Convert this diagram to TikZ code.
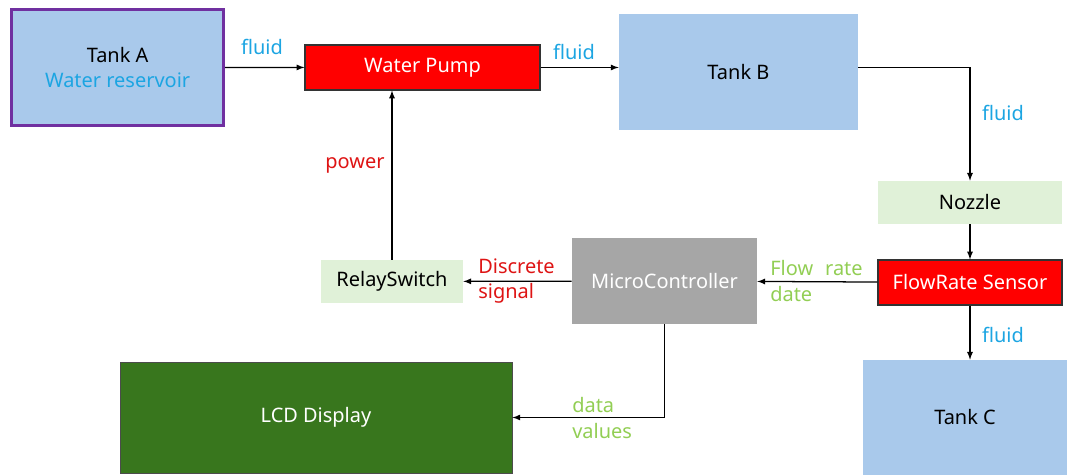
\documentclass[tikz,border=0pt]{standalone}
\usepackage{xcolor}
\usepackage{fontspec}
\setmainfont{Noto Sans}
\usepackage{tikz}
\usetikzlibrary{calc}
\usetikzlibrary{arrows}
\usetikzlibrary{arrows.meta}
\usetikzlibrary{positioning}
\tikzset{>=latex}

\definecolor{tankblue}{RGB}{169,201,235}
\definecolor{tankpurple}{RGB}{112,48,160}
\definecolor{pumpred}{RGB}{255,0,0}
\definecolor{paleg}{RGB}{224,241,216}
\definecolor{mcgray}{RGB}{166,166,166}
\definecolor{lcdgreen}{RGB}{56,118,29}
\definecolor{fluidblue}{RGB}{28,165,226}
\definecolor{sigred}{RGB}{222,20,20}
\definecolor{datagreen}{RGB}{146,206,84}

\tikzstyle{blk} = [rectangle, inner sep = 0, align = center, font = \fontsize{14.2}{18}\selectfont]
\tikzstyle{tank} = [blk, fill = tankblue]
\tikzstyle{redbox} = [blk, fill = pumpred, draw = black!80, line width = 0.8pt, text = white]
\tikzstyle{palebox} = [blk, fill = paleg]
\tikzstyle{lbl} = [draw = none, inner sep = 0, align = left, font = \fontsize{14.2}{18}\selectfont]
\tikzstyle{link} = [-latex, draw = black, line width = 0.9pt]

\begin{document}
\begin{tikzpicture}
\useasboundingbox (0, 0) rectangle (26.675, 11.875);

% tanks
\node [tank, draw = tankpurple, line width = 2.2pt, minimum width = 5.3cm, minimum height = 2.9cm] (tankA) at (2.94, 10.19) {Tank A\\\textcolor{fluidblue}{Water reservoir}};
\node [tank, minimum width = 5.975cm, minimum height = 2.9cm] (tankB) at (18.46, 10.075) {Tank B};
\node [tank, minimum width = 5.1cm, minimum height = 2.875cm] (tankC) at (24.125, 1.4375) {Tank C};

% pump, nozzle, sensor
\node [redbox, minimum width = 5.875cm, minimum height = 1.125cm] (pump) at (10.5625, 10.1875) {Water Pump};
\node [palebox, minimum width = 4.6cm, minimum height = 1.075cm] (nozzle) at (24.25, 6.8125) {Nozzle};
\node [redbox, minimum width = 4.6cm, minimum height = 1.125cm] (sensor) at (24.25, 4.8125) {FlowRate Sensor};

% control side
\node [blk, fill = mcgray, text = white, minimum width = 4.625cm, minimum height = 2.15cm] (mcu) at (16.6125, 4.85) {MicroController};
\node [palebox, minimum width = 3.55cm, minimum height = 1.075cm] (relay) at (9.8, 4.8375) {RelaySwitch};
\node [blk, fill = lcdgreen, draw = black!70, line width = 0.6pt, text = white, minimum width = 9.8cm, minimum height = 2.775cm] (lcd) at (7.9, 1.4375) {LCD Display};

% fluid path
\draw [link] (tankA) to (pump);
\draw [link] (pump.east) to (pump.east -| tankB.west);
\draw [link] (tankB.east |- pump.east) -| (nozzle.north);
\draw [link] (nozzle) to (sensor);
\draw [link] (sensor) to (sensor.south |- tankC.north);

% signals
\draw [link] (sensor) to (mcu);
\draw [link] (mcu) to (relay);
\draw [link] (relay.north) to (relay.north |- pump.south);
\draw [link] (mcu.south) |- (lcd.east);

% labels
\node [lbl, text = fluidblue] (fl1) at (6.55, 10.7) {fluid};
\node [lbl, text = fluidblue] (fl2) at (14.35, 10.575) {fluid};
\node [lbl, text = fluidblue] (fl3) at (25.075, 9.05) {fluid};
\node [lbl, text = fluidblue] (fl4) at (25.075, 3.5) {fluid};
\node [lbl, text = sigred] (pwr) at (8.875, 7.75) {power};
\node [lbl, text = sigred, anchor = west] (disc) at (11.95, 4.85) {Discrete\\signal};
\node [lbl, text = datagreen, anchor = west] (flow) at (19.25, 4.85) {Flow\hspace{0.6em}rate\\date};
\node [lbl, text = datagreen, anchor = west] (vals) at (14.3, 1.425) {data\\values};
\end{tikzpicture}
\end{document}
